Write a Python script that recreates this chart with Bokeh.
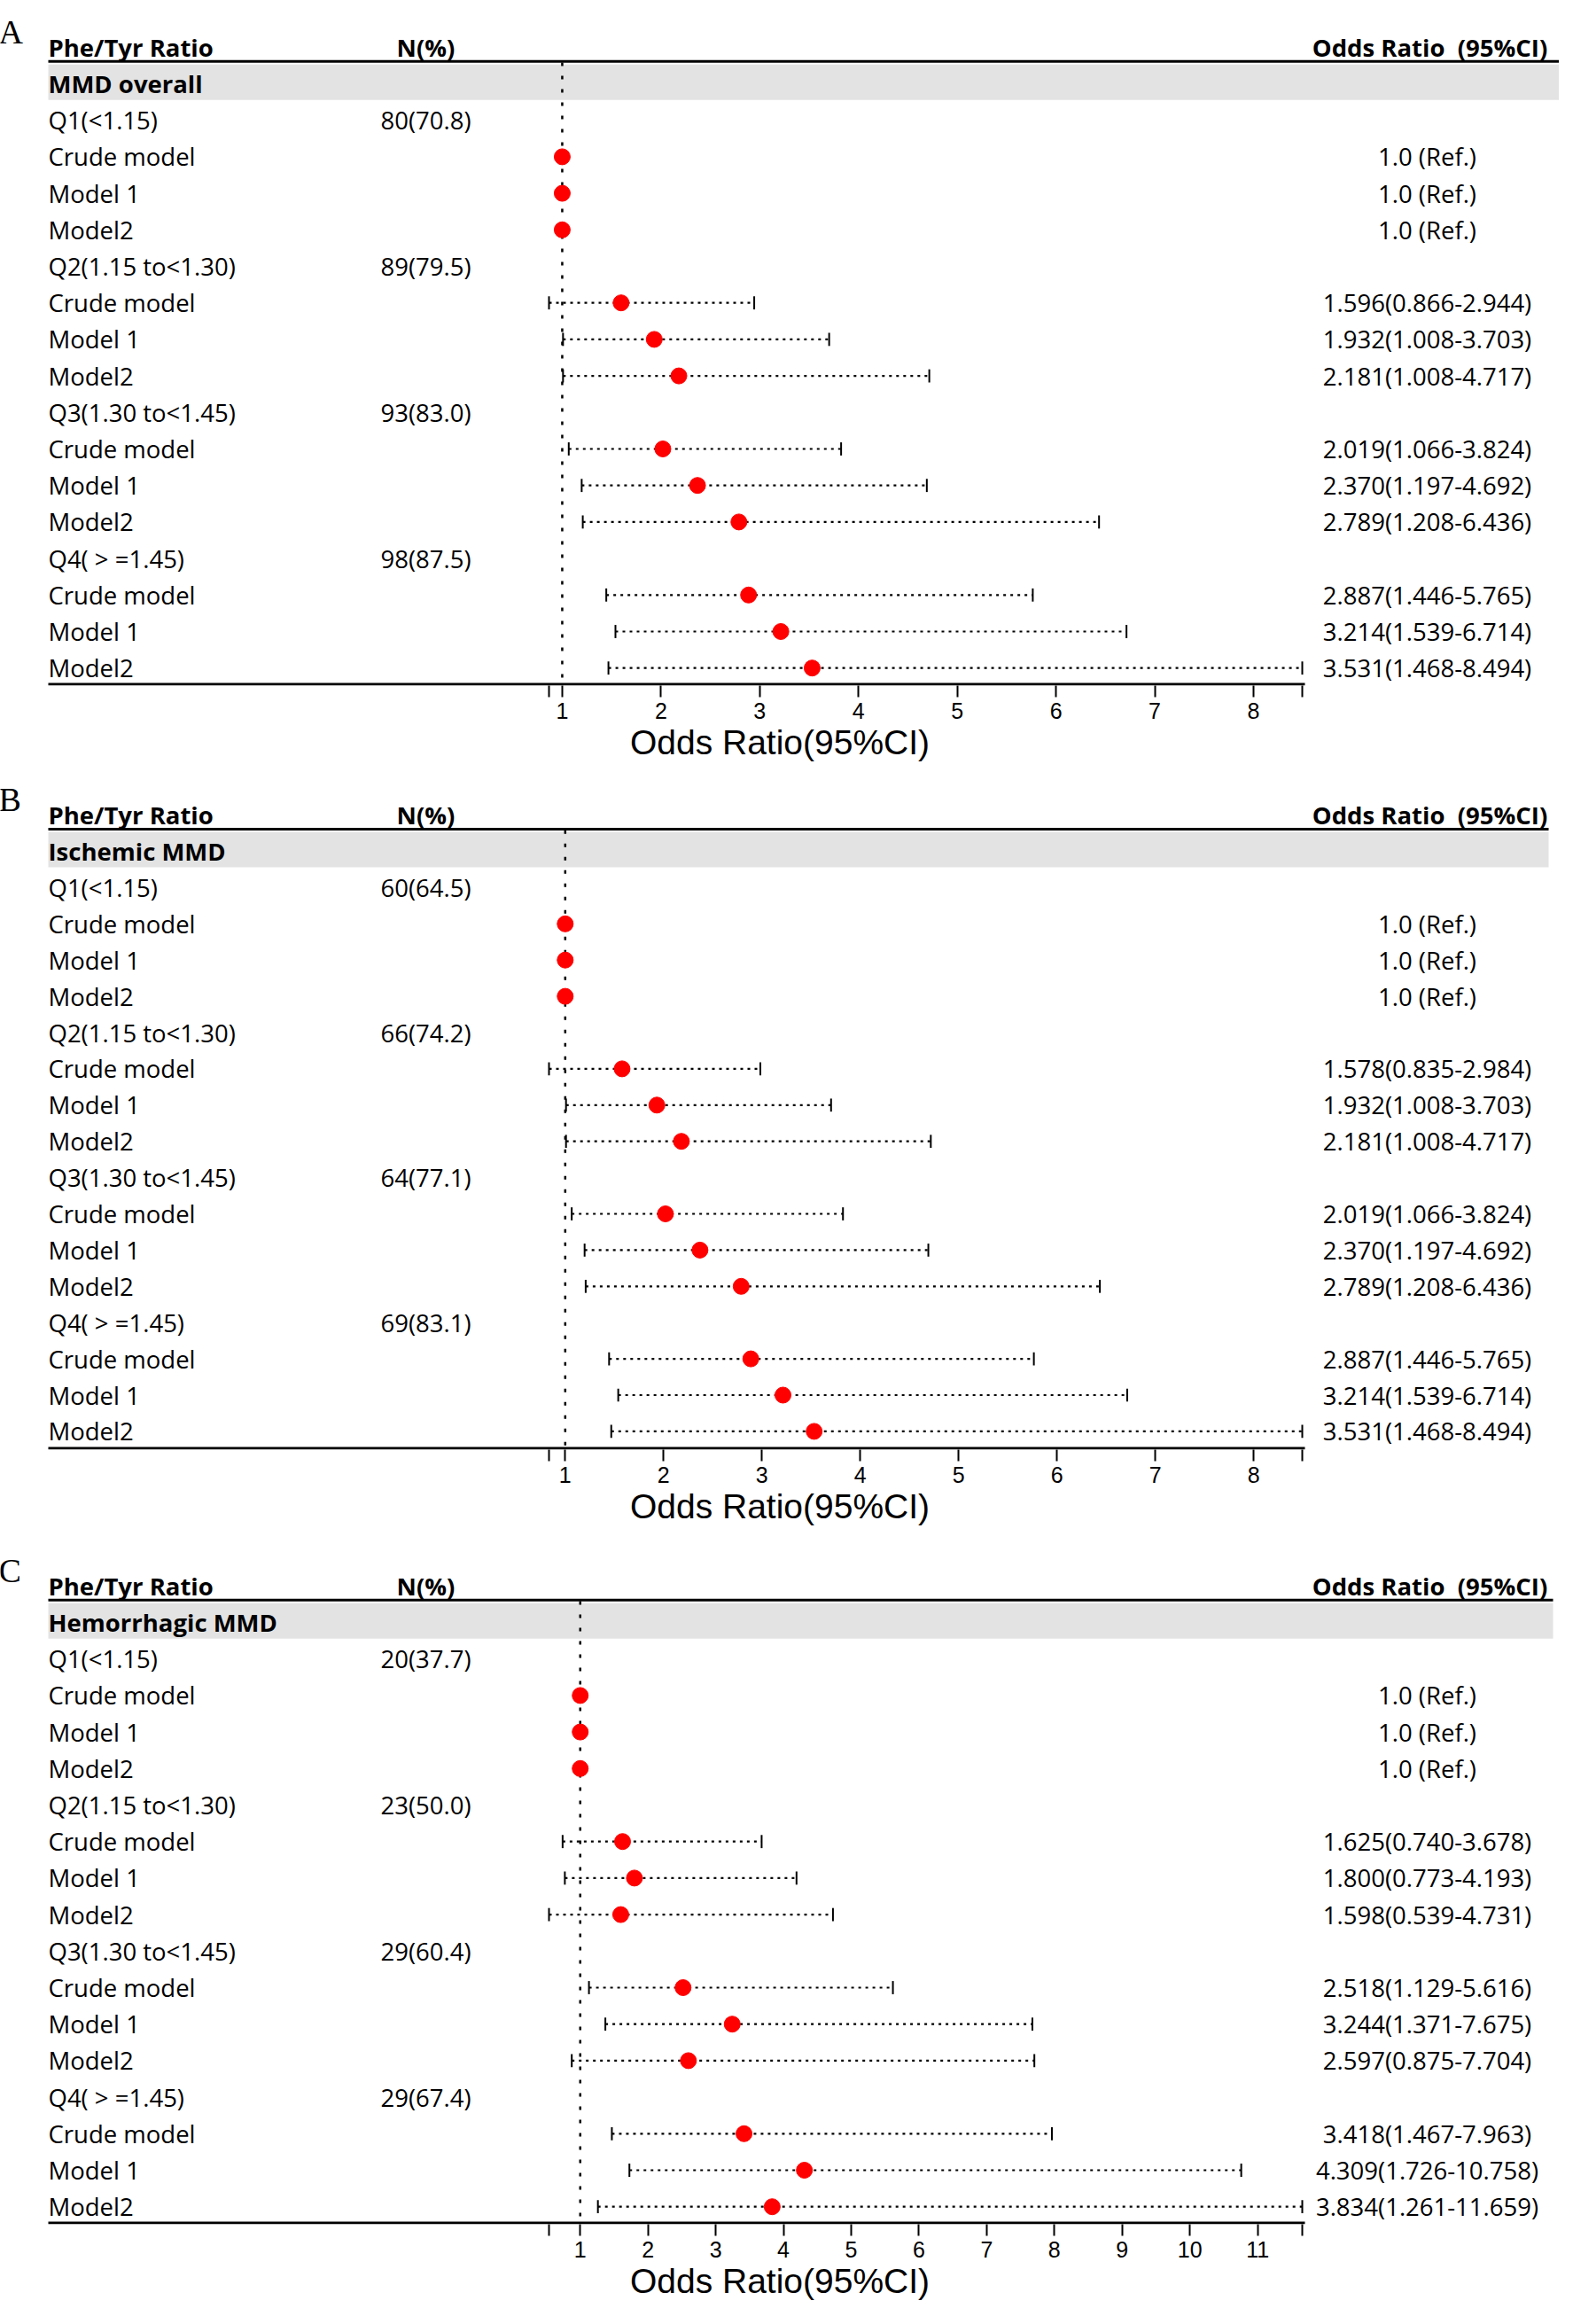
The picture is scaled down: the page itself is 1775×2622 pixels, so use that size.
from bokeh.plotting import figure
from bokeh.models import Range1d, LinearAxis, FixedTicker, ColumnDataSource
from bokeh.layouts import column
from bokeh.embed import file_html
from bokeh.resources import INLINE
from bokeh.core.properties import value

# ---------------- data ----------------
null_value = 1.0
ticks_ab = [1, 2, 3, 4, 5, 6, 7, 8]
ticks_c = [1, 2, 3, 4, 5, 6, 7, 8, 9, 10, 11]

quartiles = ["Q1(<1.15)", "Q2(1.15 to<1.30)", "Q3(1.30 to<1.45)", "Q4( > =1.45)"]
models = ["Crude model", "Model 1", "Model2"]

a_group = "MMD overall"
a_n = ["80(70.8)", "89(79.5)", "93(83.0)", "98(87.5)"]
a_or = [1.0, 1.0, 1.0, 1.596, 1.932, 2.181, 2.019, 2.370, 2.789, 2.887, 3.214, 3.531]
a_lo = [1.0, 1.0, 1.0, 0.866, 1.008, 1.008, 1.066, 1.197, 1.208, 1.446, 1.539, 1.468]
a_hi = [1.0, 1.0, 1.0, 2.944, 3.703, 4.717, 3.824, 4.692, 6.436, 5.765, 6.714, 8.494]

b_group = "Ischemic MMD"
b_n = ["60(64.5)", "66(74.2)", "64(77.1)", "69(83.1)"]
b_or = [1.0, 1.0, 1.0, 1.578, 1.932, 2.181, 2.019, 2.370, 2.789, 2.887, 3.214, 3.531]
b_lo = [1.0, 1.0, 1.0, 0.835, 1.008, 1.008, 1.066, 1.197, 1.208, 1.446, 1.539, 1.468]
b_hi = [1.0, 1.0, 1.0, 2.984, 3.703, 4.717, 3.824, 4.692, 6.436, 5.765, 6.714, 8.494]

c_group = "Hemorrhagic MMD"
c_n = ["20(37.7)", "23(50.0)", "29(60.4)", "29(67.4)"]
c_or = [1.0, 1.0, 1.0, 1.625, 1.800, 1.598, 2.518, 3.244, 2.597, 3.418, 4.309, 3.834]
c_lo = [1.0, 1.0, 1.0, 0.740, 0.773, 0.539, 1.129, 1.371, 0.875, 1.467, 1.726, 1.261]
c_hi = [1.0, 1.0, 1.0, 3.678, 4.193, 4.731, 5.616, 7.675, 7.704, 7.963, 10.758, 11.659]

# ---------------- style ----------------
W = 1759
TXT = "Open Sans"
FS = "27.5px"
BOTTOM = 96


def make_panel(letter, group, n_list, ors, los, his, ticks, frame_h, y0, step, band_right):
    lo_all = min(los)
    hi_all = max(his)
    px_lo, px_hi = 619, 1469
    s = (px_hi - px_lo) / (hi_all - lo_all)
    y_bottom = (frame_h - y0) / step
    p = figure(width=W, height=frame_h + BOTTOM, frame_height=frame_h, frame_width=W,
               output_backend="svg", toolbar_location=None,
               x_range=Range1d(lo_all - px_lo / s, hi_all + (W - px_hi) / s),
               y_range=Range1d(y_bottom, -y0 / step),
               x_axis_type=None, y_axis_type=None,
               min_border_left=0, min_border_right=0, min_border_top=0,
               min_border_bottom=BOTTOM)
    p.extra_x_ranges = {"tbl": Range1d(8, 8 + W)}
    p.outline_line_color = None
    p.background_fill_color = "white"
    p.border_fill_color = "white"

    # rows
    q_rows = [1 + 4 * q for q in range(4)]
    m_rows = [2 + 4 * q + m for q in range(4) for m in range(3)]
    m_labels = [models[m] for q in range(4) for m in range(3)]
    or_text = ["1.0 (Ref.)" if l == h else "%.3f(%.3f-%.3f)" % (o, l, h)
               for o, l, h in zip(ors, los, his)]

    # grey band behind group title
    p.quad(left=[62], right=[band_right], top=[-0.53], bottom=[0.44],
           x_range_name="tbl", fill_color="#E3E3E3", line_color=None)
    # header rule
    p.segment(x0=[62], x1=[band_right], y0=[-0.61], y1=[-0.61], x_range_name="tbl",
              line_color="black", line_width=3)
    # bottom rule
    yb = y_bottom - 1.5 / step
    p.segment(x0=[62], x1=[8 + px_hi + 3], y0=[yb], y1=[yb], x_range_name="tbl",
              line_color="black", line_width=3)
    # null line
    p.segment(x0=[null_value], x1=[null_value], y0=[-0.58], y1=[yb],
              line_color="black", line_width=2.5, line_dash="4 11")

    # CIs
    ci = [(l, h, r) for l, h, r in zip(los, his, m_rows) if l != h]
    src = ColumnDataSource(dict(lo=[c[0] for c in ci], hi=[c[1] for c in ci],
                                y=[c[2] for c in ci],
                                yt=[c[2] - 0.18 for c in ci], yb=[c[2] + 0.18 for c in ci]))
    p.segment(x0="lo", x1="hi", y0="y", y1="y", source=src, line_color="black",
              line_width=2.2, line_dash="3 5")
    p.segment(x0="lo", x1="lo", y0="yt", y1="yb", source=src, line_color="black", line_width=2)
    p.segment(x0="hi", x1="hi", y0="yt", y1="yb", source=src, line_color="black", line_width=2)
    p.scatter(x=ors, y=m_rows, size=18, fill_color="#FF0000", line_color="#FF0000")

    # texts
    tk = dict(x_range_name="tbl", text_font=value(TXT), text_font_size=FS,
              text_baseline="middle", text_color="black")
    p.text(x=[6], y=[-59.0 / step], text=[letter], x_range_name="tbl",
           text_font=value("Liberation Serif"), text_font_size="38px",
           text_baseline="alphabetic", text_color="black")
    p.text(x=[62], y=[-1], text=["Phe/Tyr Ratio"], text_font_style="bold", **tk)
    p.text(x=[488], y=[-1], text=["N(%)"], text_font_style="bold", text_align="center", **tk)
    p.text(x=[1621], y=[-1], text=["Odds Ratio\u00a0 (95%CI)"], text_font_style="bold",
           text_align="center", **tk)
    p.text(x=[62], y=[0], text=[group], text_font_style="bold", **tk)
    p.text(x=[62] * 4, y=q_rows, text=quartiles, **tk)
    p.text(x=[488] * 4, y=q_rows, text=n_list, text_align="center", **tk)
    p.text(x=[62] * 12, y=m_rows, text=m_labels, **tk)
    p.text(x=[1618] * 12, y=m_rows, text=or_text, text_align="center", **tk)

    ax = LinearAxis(ticker=FixedTicker(ticks=ticks, minor_ticks=[lo_all, hi_all]),
                    axis_line_color=None,
                    major_tick_in=0, major_tick_out=13, minor_tick_in=0, minor_tick_out=13,
                    major_tick_line_width=2, minor_tick_line_width=2,
                    major_tick_line_color="black", minor_tick_line_color="black",
                    major_label_text_font="Liberation Sans", major_label_text_font_size="25px",
                    major_label_text_color="black", major_label_standoff=6,
                    axis_label="Odds Ratio(95%CI)", axis_label_text_font="Liberation Sans",
                    axis_label_text_font_size="39px", axis_label_text_font_style="normal",
                    axis_label_text_color="black", axis_label_standoff=2)
    p.add_layout(ax, "below")
    return p


pa = make_panel("A", a_group, a_n, a_or, a_lo, a_hi, ticks_ab, 773, 94, 41.2, 1767)
pb = make_panel("B", b_group, b_n, b_or, b_lo, b_hi, ticks_ab, 766, 91, 40.9, 1755)
pc = make_panel("C", c_group, c_n, c_or, c_lo, c_hi, ticks_c, 778, 99, 41.2, 1760)

layout = column(pa, pb, pc, spacing=0)
open("out.html", "w").write(file_html(layout, INLINE))
